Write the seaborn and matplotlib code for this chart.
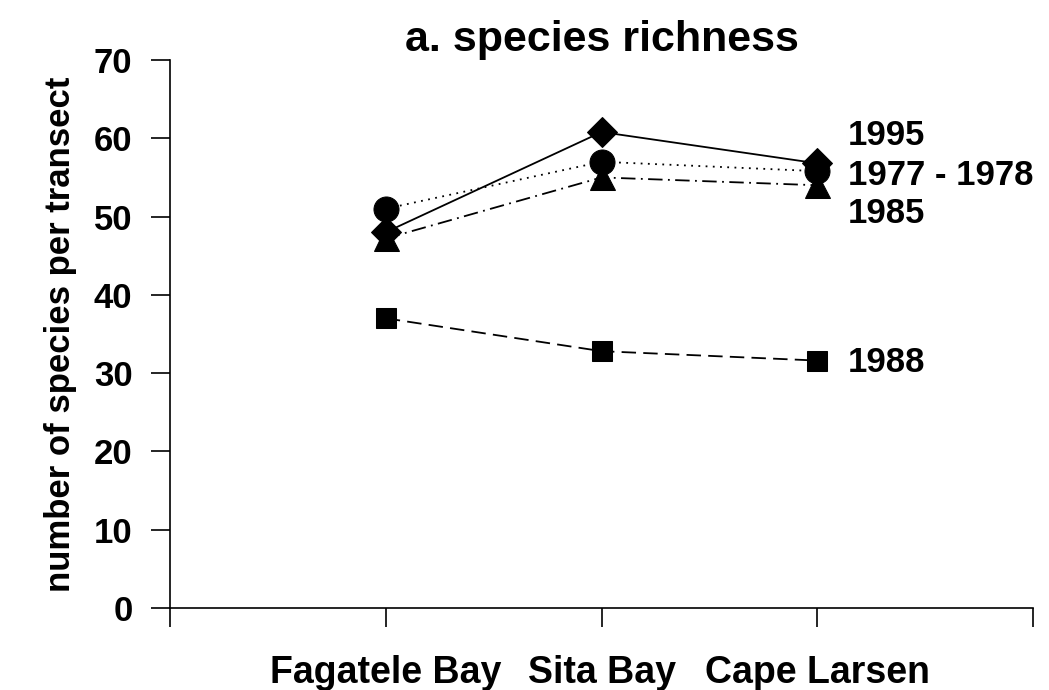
import matplotlib
matplotlib.use("Agg")
import matplotlib.pyplot as plt
import seaborn as sns
import pandas as pd

sites = ["Fagatele Bay", "Sita Bay", "Cape Larsen"]
years = ["1995", "1977 - 1978", "1985", "1988"]
v1995 = [48, 60.8, 56.8]
v1977 = [51, 57, 55.8]
v1985 = [47.2, 55, 54]
v1988 = [37, 32.8, 31.6]
label_y = [60.4, 55.3, 50.4, 31.4]

series = dict(zip(years, [v1995, v1977, v1985, v1988]))
rows = []
for y, vals in series.items():
    for i, (s, v) in enumerate(zip(sites, vals)):
        rows.append({"site": s, "pos": i + 1, "year": y, "value": v})
df = pd.DataFrame(rows)

sns.set_style("ticks")
plt.rcParams["font.family"] = ["Liberation Sans", "DejaVu Sans"]
plt.rcParams["font.weight"] = "bold"
plt.rcParams["text.color"] = "black"
plt.rcParams["axes.labelcolor"] = "black"
plt.rcParams["xtick.color"] = "black"
plt.rcParams["ytick.color"] = "black"

fig = plt.figure(figsize=(10.49, 6.9), dpi=100)
ax = fig.add_axes([0.162, 0.119, 0.823, 0.794])

styles = {
    "1995": dict(marker="D", ms=15, ls="-"),
    "1977 - 1978": dict(marker="o", ms=18, ls=(0, (1, 3))),
    "1985": dict(marker="^", ms=18, ls=(0, (8, 3, 1, 3))),
    "1988": dict(marker="s", ms=14.5, ls=(0, (8, 4))),
}
order = ["1988", "1985", "1977 - 1978", "1995"]
for y in order:
    sub = df[df["year"] == y]
    st = styles[y]
    sns.lineplot(data=sub, x="pos", y="value", ax=ax, color="black",
                 lw=1.3, linestyle=st["ls"], marker=st["marker"],
                 markersize=st["ms"], markeredgecolor="black",
                 markerfacecolor="black", legend=False)

for y, ly in zip(years, label_y):
    ax.text(3.14, ly, y, fontsize=25, fontweight="bold", va="center", ha="left",
            color="black")

ax.set_xlim(0, 4)
ax.set_ylim(0, 70)
ax.set_xticks([0, 1, 2, 3, 4])
ax.set_xticklabels(["", sites[0], sites[1], sites[2], ""], fontsize=27, fontweight="bold")
ax.set_yticks(range(0, 71, 10))
ax.set_yticklabels([str(v) for v in range(0, 71, 10)], fontsize=25, fontweight="bold")
ax.tick_params(axis="x", direction="out", length=14, width=1.2, pad=20, colors="black")
ax.tick_params(axis="y", direction="out", length=14, width=1.2, pad=13, colors="black")
ax.set_xlabel("")
ax.set_ylabel("number of species per transect", fontsize=25, fontweight="bold",
              labelpad=12, color="black")
ax.set_title("a. species richness", fontsize=31, fontweight="bold", pad=6, color="black")
for side in ["top", "right"]:
    ax.spines[side].set_visible(False)
for side in ["left", "bottom"]:
    ax.spines[side].set_color("black")
    ax.spines[side].set_linewidth(1.2)

fig.savefig("out.png", dpi=100, facecolor="white")
